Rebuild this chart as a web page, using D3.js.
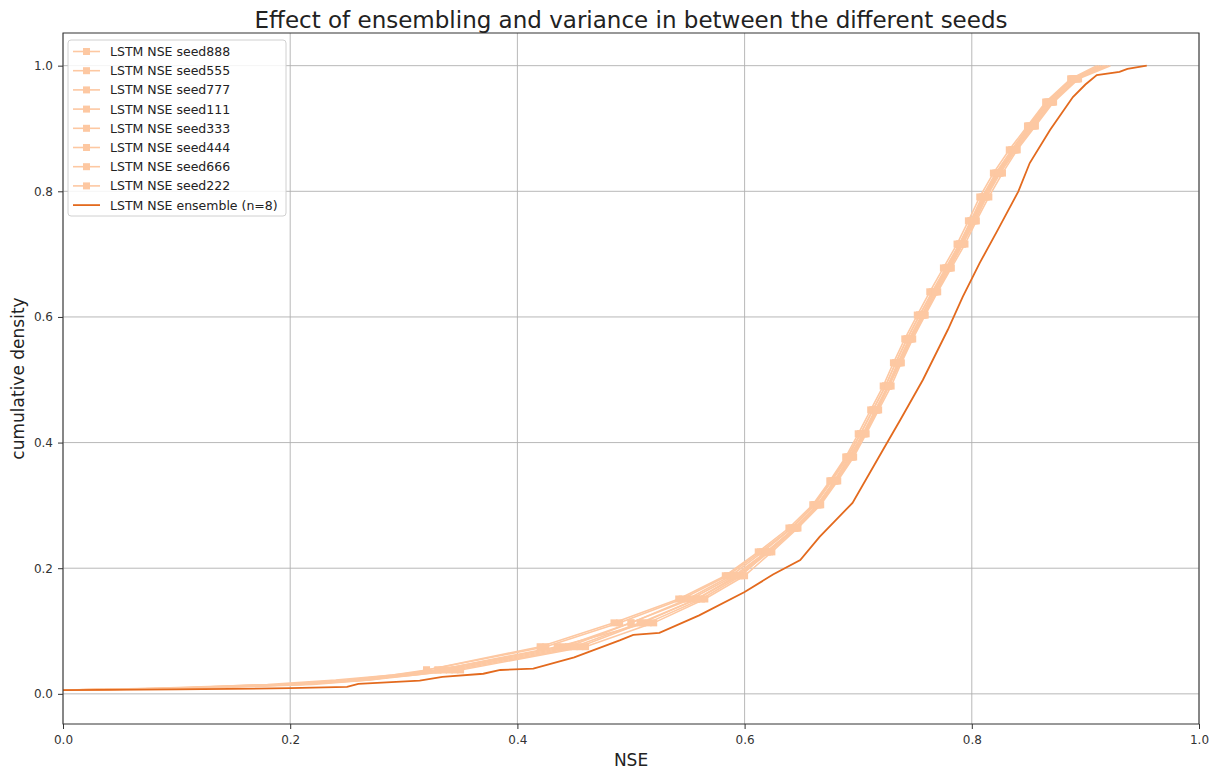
<!DOCTYPE html>
<html>
<head>
<meta charset="utf-8">
<script src="https://cdn.jsdelivr.net/npm/d3@7"></script>
<style>
  body { margin: 0; background: #fff; }
  text { font-family: "DejaVu Sans", sans-serif; }
</style>
</head>
<body>
<div id="chart"></div>
<script>
// cumulative levels shared by the seed runs (first 5 are the tail, then every 20th basin)
var levels = [0.006, 0.009, 0.015, 0.022, 0.030,
    0.038, 0.075, 0.113, 0.151, 0.188, 0.226, 0.264, 0.301, 0.339, 0.377,
    0.414, 0.452, 0.490, 0.527, 0.565, 0.603, 0.640, 0.678, 0.716, 0.753,
    0.791, 0.829, 0.866, 0.904, 0.942, 0.979, 1.0];
var markerFrom = 5;

var seedNames = ["seed888", "seed555", "seed777", "seed111", "seed333", "seed444", "seed666", "seed222"];

var seed888 = [0.00, 0.09, 0.19, 0.25, 0.29, 0.32, 0.425, 0.49, 0.545, 0.585, 0.614, 0.641, 0.661, 0.676, 0.690, 0.702, 0.713, 0.724, 0.733, 0.743, 0.754, 0.765, 0.777, 0.789, 0.799, 0.809, 0.821, 0.835, 0.850, 0.866, 0.888, 0.912];
var seed555 = [0.00, 0.11, 0.21, 0.27, 0.31, 0.345, 0.455, 0.51, 0.558, 0.595, 0.622, 0.646, 0.666, 0.681, 0.695, 0.706, 0.717, 0.727, 0.737, 0.747, 0.758, 0.769, 0.781, 0.792, 0.803, 0.813, 0.825, 0.839, 0.855, 0.871, 0.893, 0.918];
var seed777 = [0.00, 0.10, 0.18, 0.24, 0.29, 0.33, 0.435, 0.515, 0.562, 0.597, 0.620, 0.644, 0.664, 0.679, 0.692, 0.704, 0.715, 0.726, 0.735, 0.745, 0.756, 0.767, 0.779, 0.791, 0.801, 0.811, 0.823, 0.837, 0.853, 0.869, 0.892, 0.920];
var seed111 = [0.00, 0.12, 0.22, 0.27, 0.30, 0.335, 0.445, 0.50, 0.550, 0.588, 0.616, 0.642, 0.662, 0.677, 0.691, 0.702, 0.713, 0.724, 0.733, 0.743, 0.754, 0.766, 0.778, 0.789, 0.800, 0.810, 0.822, 0.836, 0.851, 0.867, 0.889, 0.914];
var seed333 = [0.00, 0.10, 0.20, 0.26, 0.31, 0.35, 0.46, 0.52, 0.565, 0.600, 0.624, 0.647, 0.667, 0.682, 0.696, 0.707, 0.718, 0.729, 0.738, 0.748, 0.759, 0.770, 0.782, 0.794, 0.804, 0.815, 0.827, 0.840, 0.856, 0.872, 0.894, 0.922];
var seed444 = [0.00, 0.08, 0.19, 0.25, 0.30, 0.32, 0.42, 0.485, 0.542, 0.583, 0.612, 0.639, 0.660, 0.675, 0.689, 0.700, 0.711, 0.722, 0.731, 0.741, 0.752, 0.763, 0.775, 0.787, 0.797, 0.807, 0.819, 0.833, 0.849, 0.865, 0.887, 0.910];
var seed666 = [0.00, 0.11, 0.20, 0.26, 0.295, 0.33, 0.44, 0.50, 0.553, 0.591, 0.619, 0.644, 0.664, 0.679, 0.693, 0.705, 0.716, 0.726, 0.735, 0.745, 0.756, 0.767, 0.779, 0.790, 0.800, 0.811, 0.823, 0.837, 0.852, 0.868, 0.890, 0.916];
var seed222 = [0.00, 0.10, 0.21, 0.265, 0.305, 0.34, 0.45, 0.508, 0.558, 0.593, 0.620, 0.645, 0.665, 0.680, 0.694, 0.705, 0.716, 0.727, 0.736, 0.746, 0.757, 0.768, 0.780, 0.792, 0.802, 0.812, 0.824, 0.838, 0.854, 0.870, 0.892, 0.917];
var seedValues = [seed888, seed555, seed777, seed111, seed333, seed444, seed666, seed222];

// ensemble (n=8)
var ensembleNse = [0.00, 0.10, 0.20, 0.25, 0.26, 0.314, 0.334, 0.37, 0.385, 0.414, 0.45, 0.49, 0.502, 0.525, 0.56, 0.60, 0.625, 0.649, 0.666, 0.695, 0.722, 0.737, 0.757, 0.779, 0.792, 0.807, 0.823, 0.841, 0.851, 0.869, 0.889, 0.90, 0.91, 0.93, 0.937, 0.954];
var ensembleCdf = [0.006, 0.007, 0.009, 0.011, 0.016, 0.021, 0.027, 0.032, 0.038, 0.040, 0.058, 0.085, 0.094, 0.097, 0.125, 0.162, 0.19, 0.213, 0.25, 0.304, 0.389, 0.436, 0.50, 0.58, 0.632, 0.686, 0.739, 0.80, 0.845, 0.898, 0.95, 0.97, 0.985, 0.99, 0.995, 1.0];

var xTicks = [0.0, 0.2, 0.4, 0.6, 0.8, 1.0];
var yTicks = [0.0, 0.2, 0.4, 0.6, 0.8, 1.0];

var seedColor = "#fdc8a2";
var ensColor = "#e36a1e";

var width = 1211, height = 769;
var margin = {left: 63, right: 12, top: 33, bottom: 45};

var svg = d3.select("#chart").append("svg")
    .attr("width", width)
    .attr("height", height);

var x = d3.scaleLinear().domain([0, 1]).range([margin.left, width - margin.right]);
var y = d3.scaleLinear().domain([-0.048, 1.052]).range([height - margin.bottom, margin.top]);

svg.append("clipPath").attr("id", "clip")
    .append("rect")
    .attr("x", margin.left).attr("y", margin.top)
    .attr("width", width - margin.left - margin.right)
    .attr("height", height - margin.top - margin.bottom);

// grid
var grid = svg.append("g");
grid.selectAll(".gx").data(xTicks).enter().append("line")
    .attr("x1", function(d) { return x(d); }).attr("x2", function(d) { return x(d); })
    .attr("y1", margin.top).attr("y2", height - margin.bottom)
    .attr("stroke", "#b0b0b0").attr("stroke-width", 0.9);
grid.selectAll(".gy").data(yTicks).enter().append("line")
    .attr("x1", margin.left).attr("x2", width - margin.right)
    .attr("y1", function(d) { return y(d); }).attr("y2", function(d) { return y(d); })
    .attr("stroke", "#b0b0b0").attr("stroke-width", 0.9);

var plot = svg.append("g").attr("clip-path", "url(#clip)");

var line = d3.line()
    .x(function(d) { return x(d[0]); })
    .y(function(d) { return y(d[1]); });

seedValues.forEach(function(vals) {
    var pts = vals.map(function(v, i) { return [v, levels[i]]; });
    plot.append("path")
        .attr("d", line(pts))
        .attr("fill", "none")
        .attr("stroke", seedColor)
        .attr("stroke-width", 1.6);
    plot.selectAll(null)
        .data(pts.slice(markerFrom, pts.length - 1))
        .enter().append("rect")
        .attr("x", function(d) { return x(d[0]) - 3.5; })
        .attr("y", function(d) { return y(d[1]) - 3.5; })
        .attr("width", 7).attr("height", 7)
        .attr("fill", seedColor);
});

var ensPts = ensembleNse.map(function(v, i) { return [v, ensembleCdf[i]]; });
plot.append("path")
    .attr("d", line(ensPts))
    .attr("fill", "none")
    .attr("stroke", ensColor)
    .attr("stroke-width", 1.8);

// axes
var xAxis = svg.append("g")
    .attr("transform", "translate(0," + (height - margin.bottom) + ")")
    .call(d3.axisBottom(x).tickValues(xTicks).tickFormat(d3.format(".1f")).tickSizeOuter(0).tickSize(5).tickPadding(6));
var yAxis = svg.append("g")
    .attr("transform", "translate(" + margin.left + ",0)")
    .call(d3.axisLeft(y).tickValues(yTicks).tickFormat(d3.format(".1f")).tickSizeOuter(0).tickSize(5).tickPadding(5));
[xAxis, yAxis].forEach(function(a) {
    a.select(".domain").remove();
    a.selectAll("text").attr("font-size", "12px").attr("fill", "#333").attr("font-family", "DejaVu Sans");
    a.selectAll("line").attr("stroke", "#333");
});

// frame
svg.append("rect")
    .attr("x", margin.left).attr("y", margin.top)
    .attr("width", width - margin.left - margin.right)
    .attr("height", height - margin.top - margin.bottom)
    .attr("fill", "none").attr("stroke", "#333").attr("stroke-width", 1);

// labels
svg.append("text")
    .attr("x", (margin.left + width - margin.right) / 2).attr("y", 28)
    .attr("text-anchor", "middle").attr("font-size", "23px").attr("fill", "#222")
    .text("Effect of ensembling and variance in between the different seeds");
svg.append("text")
    .attr("x", (margin.left + width - margin.right) / 2).attr("y", 766)
    .attr("text-anchor", "middle").attr("font-size", "17px").attr("fill", "#222")
    .text("NSE");
svg.append("text")
    .attr("transform", "translate(24," + ((margin.top + height - margin.bottom) / 2) + ") rotate(-90)")
    .attr("text-anchor", "middle").attr("font-size", "17px").attr("fill", "#222")
    .text("cumulative density");

// legend
var leg = svg.append("g");
leg.append("rect")
    .attr("x", 68).attr("y", 40).attr("width", 218).attr("height", 176)
    .attr("rx", 3).attr("fill", "#fff").attr("fill-opacity", 0.85)
    .attr("stroke", "#d0d0d0");
var legItems = seedNames.map(function(s) { return {label: "LSTM NSE " + s, ens: false}; });
legItems.push({label: "LSTM NSE ensemble (n=8)", ens: true});
legItems.forEach(function(it, i) {
    var ly = 51.5 + i * 19.2;
    leg.append("line")
        .attr("x1", 73).attr("x2", 100).attr("y1", ly).attr("y2", ly)
        .attr("stroke", it.ens ? ensColor : seedColor).attr("stroke-width", it.ens ? 1.8 : 1.6);
    if (!it.ens)
        leg.append("rect").attr("x", 83).attr("y", ly - 3.5).attr("width", 7).attr("height", 7).attr("fill", seedColor);
    leg.append("text")
        .attr("x", 110).attr("y", ly + 4.5)
        .attr("font-size", "12.5px").attr("fill", "#222")
        .text(it.label);
});
</script>
</body>
</html>
